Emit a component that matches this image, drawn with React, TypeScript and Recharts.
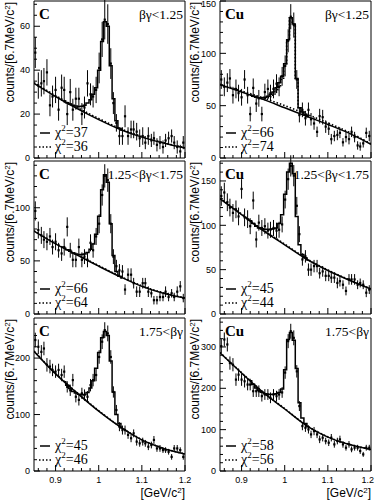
import React from 'react';
import { ComposedChart, Scatter, Line, XAxis, YAxis, ErrorBar, ReferenceArea } from 'recharts';

// bin centres (6.7 MeV bins), GeV/c^2
const massBins = [
  0.853, 0.860, 0.867, 0.873, 0.880, 0.887, 0.893, 0.900, 0.907, 0.914,
  0.920, 0.927, 0.934, 0.940, 0.947, 0.954, 0.961, 0.967, 0.974, 0.981,
  0.987, 0.994, 1.001, 1.008, 1.014, 1.021, 1.028, 1.034, 1.041, 1.048,
  1.055, 1.061, 1.068, 1.075, 1.081, 1.088, 1.095, 1.102, 1.108, 1.115,
  1.122, 1.128, 1.135, 1.142, 1.149, 1.155, 1.162, 1.169, 1.175, 1.182,
  1.189, 1.196,
];
const peakBins = [
  0.920, 0.927, 0.934, 0.940, 0.947, 0.954, 0.961, 0.967, 0.974, 0.981,
  0.987, 0.994, 1.001, 1.008, 1.014, 1.021, 1.028, 1.034, 1.041, 1.048, 1.055,
];
const bgMass = [0.85, 0.9, 0.95, 1.0, 1.05, 1.1, 1.15, 1.2];
const xTicks = [0.86, 0.88, 0.9, 0.92, 0.94, 0.96, 0.98, 1.0, 1.02, 1.04, 1.06, 1.08, 1.1, 1.12, 1.14, 1.16, 1.18, 1.2];

// C, βγ<1.25
const cLowY = [48,33,34,35,39,24,28,31,22,32, 31,20,30,22,27,27,20,23,34,29, 28,31,41,54,63,61,43,25,16,10, 10,19,10,13,13,12,9,10,7,10, 8,9,6,7,5,8,9,10,7,5, 3,7];
const cLowErr = [7,6,6,6,6,5,5,6,5,6, 6,5,6,5,5,5,5,5,6,5, 5,6,7,8,9,9,7,5,4,4, 4,5,4,4,4,4,4,4,3,4, 3,3,3,3,3,3,3,3,3,3, 3,3];
const cLowFit = [26.0,25.2,24.6,24.0,23.7,23.5,23.6,24.0,25.0,26.5,29,32,40,53,62,60,42,27,17,13.5,12.6];
const cLowBg = [34,28,22.5,17.5,13,9.5,6.8,4.5];
const cLowBgDot = [34.3,28.4,23,18,13.4,9.8,7,4.7];

// Cu, βγ<1.25
const cuLowY = [75,68,72,76,60,66,62,58,75,60, 42,67,52,57,42,63,66,62,66,71, 68,78,88,112,135,127,75,41,46,38, 46,37,33,25,40,39,30,28,18,21, 22,24,15,20,18,25,20,12,11,14, 24,21];
const cuLowErr = [9,9,9,9,8,9,8,8,9,8, 7,9,8,8,7,8,9,8,9,9, 9,9,10,11,12,12,9,7,7,7, 7,6,6,5,7,7,6,6,5,5, 5,5,4,5,5,5,5,4,4,4, 5,5];
const cuLowFit = [60,59,58,57.5,57.5,58,59,61,63,67,72,78,90,113,134,128,76,48,44,41,39.5];
const cuLowFitDot = [60,59,58,57.5,57,57,57.5,58.5,60,63,68,75,88,112,134,128,76,48,44,41.5,40.5];
const cuLowBg = [70,63,56,48,40,32,23.5,13];
const cuLowBgDot = [70.5,64,57.5,50,42,33.5,24.5,13.5];

// C, 1.25<βγ<1.75
const cMidY = [97,79,74,70,68,73,63,68,60,57, 63,82,60,51,51,63,51,54,51,67, 60,73,85,112,130,126,85,54,45,41, 40,23,37,37,29,21,21,29,29,21, 19.5,13,13,16,16,21,16,19.5,16,21, 26,15];
const cMidErr = [9,8,8,8,8,8,7,8,7,7, 8,9,7,7,7,8,7,7,7,8, 7,8,9,10,11,11,9,7,6,6, 6,5,6,6,5,5,5,5,5,5, 4,4,4,4,4,5,4,4,4,5, 5,4];
const cMidFit = [62,60.5,59,57.5,56.5,56,56,56.5,58,61,66,75,92,117,131,124,85,55,40,35.5,34];
const cMidBg = [78,66,55.5,45,35,26,19.5,15];
const cMidBgDot = [78.3,66.5,56,45.5,35.5,26.5,20,15.3];

// Cu, 1.25<βγ<1.75
const cuMidY = [133,137,126,120,114,118,110,141,109,107, 99,128,84,103,97,99,94,95,97,94, 95,101,129,152,167,156,122,90,61.5,65, 50,50,54,54,46,48,43,43,41,41, 35,37,33,26,39,39,39,33,35,33, 24,27.5];
const cuMidErr = [11,11,10,10,10,10,10,11,10,10, 9,10,9,9,9,9,9,9,9,9, 9,9,10,12,12,12,10,9,7,7, 7,7,7,7,6,6,6,6,6,6, 6,6,5,5,6,6,6,5,5,5, 5,5];
const cuMidFit = [105,102,99,97,96,95.5,95.5,95.5,96,97,102,112,135,160,170,158,110,78,67,63.5,61];
const cuMidBg = [130,112,94,78,62,49,38,28];
const cuMidBgDot = [130.5,112.7,94.8,78.8,62.7,49.6,38.5,28.4];

// C, 1.75<βγ
const cHighY = [232,220,211,217,188,185,179,176,179,170, 176,149,143,161,131.5,126,137.5,134.5,131.5,152, 161,170,202,229,249.5,243.7,202,140,108,78.5, 72.5,72.5,64,58,66.7,52,49,52,49,43, 46,55,40,40,37,37,34,25,40,40, 37,25];
const cHighErr = [13,13,12,12,12,12,11,11,11,11, 11,10,10,11,10,10,10,10,10,11, 11,11,12,13,14,14,12,10,9,8, 8,8,7,7,7,7,6,7,6,6, 6,7,6,6,5,5,5,5,6,6, 5,5];
const cHighFit = [158,152,146,141,138,136,135,135.5,139,147,160,182,210,236,247,240,195,140,100,84,76];
const cHighBg = [212,172,138,106,78,55,40,30];
const cHighBgDot = [212.5,172.8,138.8,106.8,78.6,55.5,40.4,30.3];

// Cu, 1.75<βγ
const cuHighY = [302,318,306,261,257,221,233,221,217,209, 209,193,193,193,181,185,185,177,185,181, 185,190,238,314,338,322,241,157,108.6,104.6, 100.6,88.5,96.5,88.5,76.4,80.5,72.4,68.4,80.5,64.4, 72.4,76.4,64.4,56.3,64.4,52.3,56.3,56.3,48.3,40.2, 56.3,56.3];
const cuHighErr = [17,17,17,16,16,15,15,15,15,14, 14,14,14,14,13,13,13,13,13,13, 13,13,15,17,18,18,15,12,10,10, 10,9,10,9,9,9,8,8,9,8, 8,9,8,7,8,7,7,7,7,6, 7,7];
const cuHighFit = [218,209,201,195,190.5,187,185.5,185,185.5,187,190,198,245,318,335,316,248,165,128,115,107];
const cuHighBg = [286,237,190,150,110,82,64,52];
const cuHighBgDot = [286.5,237.7,190.8,150.8,110.7,82.6,64.4,52.3];

const targets = ['C', 'Cu'];
const rangeLabels = ['βγ<1.25', '1.25<βγ<1.75', '1.75<βγ'];
const chiSolid = [['37', '66'], ['66', '45'], ['45', '58']];
const chiDot = [['36', '74'], ['64', '44'], ['46', '56']];

const SANS = 'Liberation Sans, Arial, Helvetica, sans-serif';
const SERIF = 'Liberation Serif, Times New Roman, serif';

const COLS = [{ chartLeft: 0, plotLeft: 34 }, { chartLeft: 186, plotLeft: 220 }];
const ROWS = [{ top: 1, bottom: 158 }, { top: 161, bottom: 314 }, { top: 318, bottom: 471 }];
const PLOT_W = 151;
const YAXIS_W = 34;
const M_TOP = 6;
const M_RIGHT = 10;
const M_BOTTOM = 6;

type PanelDef = {
  row: number; col: number; ymax: number; major: number; minor: number;
  y: number[]; err: number[]; fit: number[]; fitDot: number[] | null; bg: number[]; bgDot: number[];
};

const panels: PanelDef[] = [
  { row: 0, col: 0, ymax: 71.5, major: 20, minor: 5, y: cLowY, err: cLowErr, fit: cLowFit, fitDot: null, bg: cLowBg, bgDot: cLowBgDot },
  { row: 0, col: 1, ymax: 150, major: 50, minor: 10, y: cuLowY, err: cuLowErr, fit: cuLowFit, fitDot: cuLowFitDot, bg: cuLowBg, bgDot: cuLowBgDot },
  { row: 1, col: 0, ymax: 144, major: 50, minor: 10, y: cMidY, err: cMidErr, fit: cMidFit, fitDot: null, bg: cMidBg, bgDot: cMidBgDot },
  { row: 1, col: 1, ymax: 172.5, major: 50, minor: 10, y: cuMidY, err: cuMidErr, fit: cuMidFit, fitDot: null, bg: cuMidBg, bgDot: cuMidBgDot },
  { row: 2, col: 0, ymax: 271, major: 100, minor: 20, y: cHighY, err: cHighErr, fit: cHighFit, fitDot: null, bg: cHighBg, bgDot: cHighBgDot },
  { row: 2, col: 1, ymax: 370, major: 100, minor: 20, y: cuHighY, err: cuHighErr, fit: cuHighFit, fitDot: null, bg: cuHighBg, bgDot: cuHighBgDot },
];

const isMult = (v: number, step: number) => Math.abs(v / step - Math.round(v / step)) < 1e-6;

const YTick = (props: any) => {
  const { x, y, payload, major, chartTop } = props;
  const v = payload.value;
  const isMajor = isMult(v, major);
  // keep labels inside the page at the very top
  const ty = Math.max(y + 3.2, M_TOP + 7 - chartTop);
  return (
    <g>
      <line x1={x} x2={x + (isMajor ? 6 : 3)} y1={y} y2={y} stroke="#000" strokeWidth={1} />
      {isMajor && (
        <text x={x - 4} y={ty} textAnchor="end" fontSize={9} fontFamily={SANS} fill="#000">{v}</text>
      )}
    </g>
  );
};

const XTick = (props: any) => {
  const { x, y, payload, showLabels, pageLeft } = props;
  const v = payload.value;
  const isMajor = isMult(v, 0.1);
  const overflow = pageLeft + x + 7 > 374;
  return (
    <g>
      <line x1={x} x2={x} y1={y} y2={y - (isMajor ? 6 : 3)} stroke="#000" strokeWidth={1} />
      {isMajor && showLabels && (
        <text
          x={overflow ? 374 - pageLeft : x}
          y={y + 12}
          textAnchor={overflow ? 'end' : 'middle'}
          fontSize={9}
          fontFamily={SANS}
          fill="#000"
        >
          {String(Math.round(v * 10) / 10)}
        </text>
      )}
    </g>
  );
};

const PointShape = (props: any) => {
  const { cx, cy } = props;
  if (cx == null || cy == null) return null;
  return <rect x={cx - 1.1} y={cy - 1.1} width={2.2} height={2.2} fill="#000" />;
};

const Panel = ({ p }: { p: PanelDef }) => {
  const row = ROWS[p.row];
  const col = COLS[p.col];
  const isBottom = p.row === 2;
  const xh = isBottom ? 22 : 1;
  const mb = isBottom ? 0 : M_BOTTOM;
  const plotH = row.bottom - row.top;
  const pts = massBins.map((m, i) => ({ m, y: p.y[i], e: p.err[i] }));
  const fitRows = peakBins.map((m, i) => ({ m, v: p.fit[i] }));
  const fitDotRows = p.fitDot ? peakBins.map((m, i) => ({ m, v: (p.fitDot as number[])[i] })) : null;
  const bgRows = bgMass.map((m, i) => ({ m, v: p.bg[i] }));
  const bgDotRows = bgMass.map((m, i) => ({ m, v: p.bgDot[i] }));
  const yTicks: number[] = [];
  for (let v = 0; v <= p.ymax + 1e-9; v += p.minor) yTicks.push(Math.round(v * 1000) / 1000);
  const chartTop = row.top;
  return (
    <div style={{ position: 'absolute', left: col.chartLeft, top: row.top - M_TOP }}>
      <ComposedChart
        width={YAXIS_W + PLOT_W + M_RIGHT}
        height={M_TOP + plotH + xh + mb}
        margin={{ top: M_TOP, right: M_RIGHT, bottom: mb, left: 0 }}
      >
        <XAxis
          dataKey="m" type="number" domain={[0.85, 1.2]} allowDataOverflow ticks={xTicks} interval={0}
          height={xh} tickSize={0} tickMargin={0} tickLine={false} axisLine={false}
          tick={(tp: any) => <XTick {...tp} showLabels={isBottom} pageLeft={col.chartLeft} />}
        />
        <YAxis
          type="number" domain={[0, p.ymax]} allowDataOverflow ticks={yTicks} interval={0}
          width={YAXIS_W} tickSize={0} tickMargin={0} tickLine={false} axisLine={false}
          tick={(tp: any) => <YTick {...tp} major={p.major} chartTop={chartTop} />}
        />
        <Line data={bgDotRows} dataKey="v" type="monotone" stroke="#000" strokeWidth={1.6} strokeDasharray="1.5 2" dot={false} isAnimationActive={false} />
        <Line data={bgRows} dataKey="v" type="monotone" stroke="#000" strokeWidth={1.5} dot={false} isAnimationActive={false} />
        {fitDotRows && (
          <Line data={fitDotRows} dataKey="v" type="step" stroke="#000" strokeWidth={1.6} strokeDasharray="1.5 2" dot={false} isAnimationActive={false} />
        )}
        <Line data={fitRows} dataKey="v" type="step" stroke="#000" strokeWidth={1.5} dot={false} isAnimationActive={false} />
        <Scatter data={pts} dataKey="y" shape={PointShape} isAnimationActive={false}>
          <ErrorBar dataKey="e" direction="y" width={0} stroke="#000" strokeWidth={1} />
        </Scatter>
        <ReferenceArea x1={0.85} x2={1.2} y1={0} y2={p.ymax} fill="none" stroke="#000" strokeWidth={1} ifOverflow="visible" />
      </ComposedChart>
    </div>
  );
};

const Overlay = () => {
  const items: React.ReactNode[] = [];
  ROWS.forEach((row, r) => {
    COLS.forEach((col, c) => {
      const key = `${r}-${c}`;
      const left = col.plotLeft;
      const right = col.plotLeft + PLOT_W;
      const ylx = c === 0 ? 14 : 199;
      items.push(
        <text key={`yl${key}`} transform={`translate(${ylx},${row.top + 1}) rotate(-90)`} textAnchor="end" fontSize={12} fontFamily={SANS} fill="#000">
          counts/[6.7MeV/c<tspan dy={-4} fontSize={8}>2</tspan><tspan dy={4}>]</tspan>
        </text>
      );
      items.push(
        <text key={`t${key}`} x={left + 5} y={row.top + 18} fontSize={15} fontWeight="bold" fontFamily={SERIF} fill="#000">{targets[c]}</text>
      );
      items.push(
        <text key={`r${key}`} x={right - 2} y={row.top + 18} textAnchor="end" fontSize={13.5} fontFamily={SERIF} fill="#000">{rangeLabels[r]}</text>
      );
      const b = row.bottom;
      items.push(<line key={`ls${key}`} x1={left + 6} x2={left + 16} y1={b - 25} y2={b - 25} stroke="#000" strokeWidth={1.5} />);
      items.push(<line key={`ld${key}`} x1={left + 5} x2={left + 18} y1={b - 11} y2={b - 11} stroke="#000" strokeWidth={1.6} strokeDasharray="1.5 2" />);
      items.push(
        <text key={`cs${key}`} x={left + 21} y={b - 21} fontSize={14} fontFamily={SERIF} fill="#000">
          χ<tspan dy={-6} fontSize={9}>2</tspan><tspan dy={6}>={chiSolid[r][c]}</tspan>
        </text>
      );
      items.push(
        <text key={`cd${key}`} x={left + 21} y={b - 7} fontSize={14} fontFamily={SERIF} fill="#000">
          χ<tspan dy={-6} fontSize={9}>2</tspan><tspan dy={6}>={chiDot[r][c]}</tspan>
        </text>
      );
      if (r === 2) {
        items.push(
          <text key={`xl${key}`} x={right} y={497} textAnchor="end" fontSize={12} fontFamily={SANS} fill="#000">
            [GeV/c<tspan dy={-4} fontSize={8}>2</tspan><tspan dy={4}>]</tspan>
          </text>
        );
      }
    });
  });
  return (
    <svg width={375} height={500} style={{ position: 'absolute', left: 0, top: 0, pointerEvents: 'none' }}>
      {items}
    </svg>
  );
};

export default function App() {
  return (
    <div style={{ position: 'absolute', left: 0, top: 0, width: 375, height: 500, background: '#fff', overflow: 'hidden' }}>
      {panels.map((p, i) => <Panel key={i} p={p} />)}
      <Overlay />
    </div>
  );
}
